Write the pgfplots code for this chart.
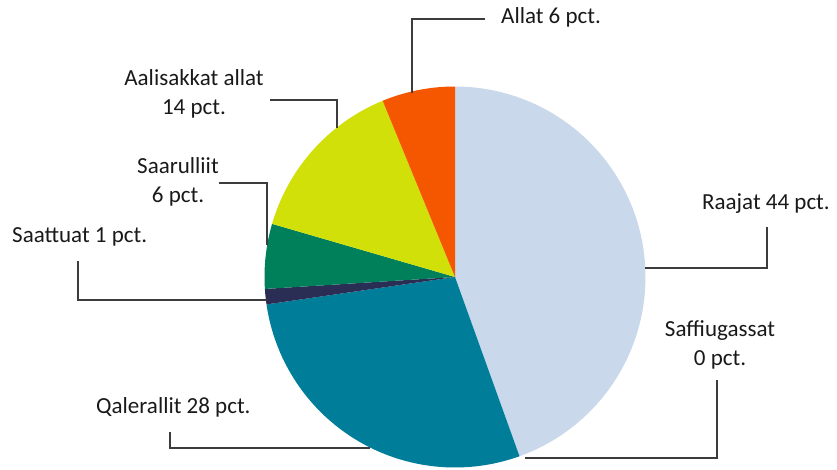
\documentclass[border=0pt]{standalone}
\usepackage{pgfplots}
\pgfplotsset{compat=1.18}
\usepackage{pgfplotstable}
\usepackage{fontspec}
\setmainfont{Carlito}
\definecolor{cRaajat}{HTML}{C9D8EA}
\definecolor{cSaffi}{HTML}{E8A33D}
\definecolor{cQaler}{HTML}{007E99}
\definecolor{cSaatt}{HTML}{2A2D54}
\definecolor{cSaaru}{HTML}{00805A}
\definecolor{cAalis}{HTML}{D2E00A}
\definecolor{cAllat}{HTML}{F55600}
\definecolor{leader}{HTML}{3C3C3C}
% share in per cent, clockwise from 12 o'clock
\pgfplotstableread{
name         value color
Raajat       44.5  cRaajat
Saffiugassat 0.0   cSaffi
Qalerallit   28.2  cQaler
Saattuat     1.3   cSaatt
Saarulliit   5.5   cSaaru
Aalisakkat   14.3  cAalis
Allat        6.2   cAllat
}\piedata
\begin{document}
\begin{tikzpicture}
\begin{axis}[
  scale only axis, width=837bp, height=470bp,
  xmin=0, xmax=837, ymin=0, ymax=470,
  axis lines=none, ticks=none, clip=false,
]
\def\cum{0}
\pgfplotsforeachungrouped \i in {0,...,6}{%
  \pgfplotstablegetelem{\i}{value}\of\piedata \let\v\pgfplotsretval
  \pgfplotstablegetelem{\i}{color}\of\piedata \let\c\pgfplotsretval
  \pgfmathsetmacro{\a}{\cum*3.6}%
  \pgfmathsetmacro{\b}{(\cum+\v)*3.6}%
  \ifdim\v pt>0pt
    \edef\tmp{\noexpand\addplot[fill=\c, draw=none, domain=\a:\b, samples=80]
      ({455+190.5*sin(x)},{193+190.5*cos(x)}) -- (axis cs:455,193) -- cycle;}%
    \tmp
  \fi
  \pgfmathsetmacro{\cum}{\cum+\v}%
}
% leader lines
\draw[leader, line width=1.1bp] (axis cs:485,451) -- (axis cs:412,451) -- (axis cs:412,377);
\draw[leader, line width=1.1bp] (axis cs:270,370) -- (axis cs:337,370) -- (axis cs:337,342);
\draw[leader, line width=1.1bp] (axis cs:219,287) -- (axis cs:267,287) -- (axis cs:267,225);
\draw[leader, line width=1.1bp] (axis cs:78,209) -- (axis cs:78,170) -- (axis cs:267,170);
\draw[leader, line width=1.1bp] (axis cs:767,243) -- (axis cs:767,202) -- (axis cs:645,202);
\draw[leader, line width=1.1bp] (axis cs:717,90) -- (axis cs:717,12) -- (axis cs:525,12);
\draw[leader, line width=1.1bp] (axis cs:170,38) -- (axis cs:170,22) -- (axis cs:370,22);
% labels
\tikzset{lbl/.style={inner sep=0pt, text=black!90, font=\fontsize{23bp}{29bp}\selectfont}}
\node[lbl, anchor=west] at (axis cs:501,453) {Allat 6 pct.};
\node[lbl, align=center] at (axis cs:194,376) {Aalisakkat allat\\14 pct.};
\node[lbl, align=center] at (axis cs:178,288) {Saarulliit\\6 pct.};
\node[lbl, anchor=west] at (axis cs:12,233) {Saattuat 1 pct.};
\node[lbl, anchor=west] at (axis cs:702,266) {Raajat 44 pct.};
\node[lbl, align=center] at (axis cs:720,125) {Saffiugassat\\0 pct.};
\node[lbl, anchor=west] at (axis cs:96,63) {Qalerallit 28 pct.};
\end{axis}
\pgfresetboundingbox
\path (0,0) rectangle (837bp,470bp);
\end{tikzpicture}
\end{document}
